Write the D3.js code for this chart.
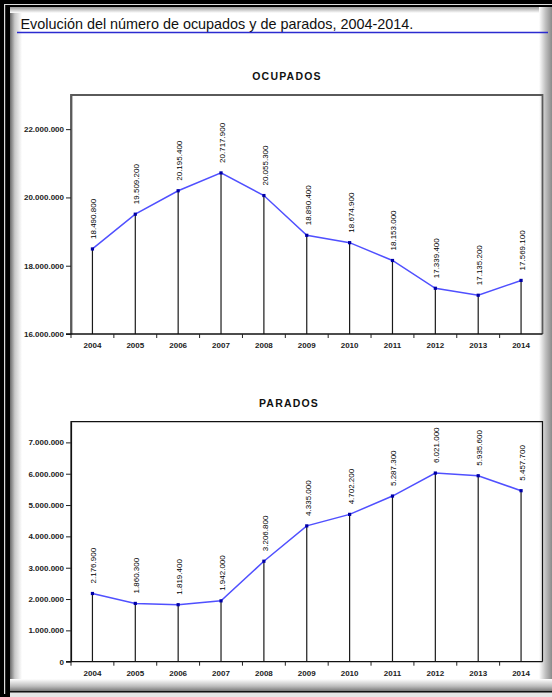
<!DOCTYPE html>
<html>
<head>
<meta charset="utf-8">
<script src="https://cdn.jsdelivr.net/npm/d3@7"></script>
<style>
  html, body { margin: 0; padding: 0; background: #000; }
  svg { display: block; font-family: "Liberation Sans", Arial, sans-serif; }
</style>
</head>
<body>
<svg id="chart" width="552" height="697"></svg>
<script>
// Years shown on both panels
const years = ["2004", "2005", "2006", "2007", "2008", "2009", "2010", "2011", "2012", "2013", "2014"];

// Employed people (ocupados)
const ocupados = [18490800, 19509200, 20195400, 20717900, 20055300, 18890400, 18674900, 18153000, 17339400, 17135200, 17569100];

// Unemployed people (parados)
const parados = [2176900, 1860300, 1819400, 1942000, 3206800, 4335000, 4702200, 5287300, 6021000, 5935600, 5457700];

// Y axis ticks for each panel
const ocupadosTicks = [16000000, 18000000, 20000000, 22000000];
const paradosTicks = [0, 1000000, 2000000, 3000000, 4000000, 5000000, 6000000, 7000000];

const mainTitle = "Evolución del número de ocupados y de parados, 2004-2014.";

const es = d3.formatLocale({ decimal: ",", thousands: ".", grouping: [3], currency: ["", "€"] });
const fmt = es.format(",");

const svg = d3.select("#chart");
const W = 552, H = 697;

// ---- Window frame with bevelled edges ----
const defs = svg.append("defs");
function grad(id, x1, y1, x2, y2, stops) {
  const g = defs.append("linearGradient").attr("id", id)
    .attr("x1", x1).attr("y1", y1).attr("x2", x2).attr("y2", y2);
  stops.forEach(s => g.append("stop").attr("offset", s[0]).attr("stop-color", s[1]));
}
grad("gLeft", 0, 0, 1, 0, [[0, "#6a6a6a"], [0.4, "#c8c8c8"], [1, "#ffffff"]]);
grad("gTop", 0, 0, 0, 1, [[0, "#9a9a9a"], [1, "#ffffff"]]);
grad("gRight", 0, 0, 1, 0, [[0, "#ffffff"], [0.5, "#c0c0c0"], [1, "#8a8a8a"]]);
grad("gBottom", 0, 0, 0, 1, [[0, "#ffffff"], [0.6, "#bdbdbd"], [1, "#7a7a7a"]]);

svg.append("rect").attr("width", W).attr("height", H).attr("fill", "#000");
svg.append("rect").attr("x", 4).attr("y", 4).attr("width", 1.2).attr("height", 690).attr("fill", "#dcdcdc");
svg.append("rect").attr("x", 4).attr("y", 4).attr("width", 548).attr("height", 1).attr("fill", "#dcdcdc");

const panel = { x: 10, y: 7, w: 542, h: 684 };
svg.append("rect").attr("x", panel.x).attr("y", panel.y).attr("width", panel.w).attr("height", panel.h).attr("fill", "#fff");
svg.append("rect").attr("x", panel.x).attr("y", panel.y).attr("width", 12).attr("height", panel.h).attr("fill", "url(#gLeft)");
svg.append("rect").attr("x", panel.x).attr("y", panel.y).attr("width", panel.w).attr("height", 6).attr("fill", "url(#gTop)");
svg.append("rect").attr("x", 539).attr("y", panel.y).attr("width", 13).attr("height", panel.h).attr("fill", "url(#gRight)");
svg.append("rect").attr("x", panel.x).attr("y", 679).attr("width", panel.w).attr("height", 12).attr("fill", "url(#gBottom)");
svg.append("rect").attr("x", 10).attr("y", 691).attr("width", 542).attr("height", 1.5).attr("fill", "#111");
svg.append("rect").attr("x", 10).attr("y", 692.5).attr("width", 542).attr("height", 4.5).attr("fill", "#e6e6e6");

// ---- Main title with blue rule ----
svg.append("text")
  .attr("x", 20.5).attr("y", 29)
  .attr("font-size", 14.4).attr("fill", "#111")
  .text(mainTitle);
svg.append("line")
  .attr("x1", 17).attr("x2", 548).attr("y1", 32.5).attr("y2", 32.5)
  .attr("stroke", "#2b2bd0").attr("stroke-width", 1.3);

// ---- One line panel with drop lines and vertical value labels ----
function drawPanel(cfg) {
  const g = svg.append("g");
  const x = d3.scaleBand().domain(years).range([cfg.left, cfg.right]).padding(0);
  const y = d3.scaleLinear().domain(cfg.domain).range([cfg.bottom, cfg.top]);
  const cx = d => x(d) + x.bandwidth() / 2;

  g.append("text")
    .attr("x", cfg.titleX).attr("y", cfg.titleY)
    .attr("text-anchor", "middle")
    .attr("font-size", 10.5).attr("font-weight", "bold")
    .attr("letter-spacing", 1.2)
    .attr("fill", "#111")
    .text(cfg.title);

  // plot frame (top and right)
  g.append("path")
    .attr("d", `M${cfg.left},${cfg.bottom}V${cfg.top}H${cfg.right}V${cfg.bottom}`)
    .attr("fill", "none").attr("stroke", cfg.frameColor).attr("stroke-width", cfg.frameWidth);

  // drop lines
  g.selectAll(".drop").data(cfg.values).join("line")
    .attr("x1", (d, i) => cx(years[i])).attr("x2", (d, i) => cx(years[i]))
    .attr("y1", d => y(d)).attr("y2", cfg.bottom)
    .attr("stroke", "#1a1a1a").attr("stroke-width", 1.2);

  // y axis
  const yAxis = g.append("g").attr("transform", `translate(${cfg.left},0)`)
    .call(d3.axisLeft(y).tickValues(cfg.ticks).tickFormat(fmt)
      .tickSize(5).tickSizeOuter(0).tickPadding(2));
  yAxis.select(".domain").attr("stroke", cfg.frameColor).attr("stroke-width", cfg.frameWidth);
  yAxis.selectAll(".tick line").attr("stroke", "#222");
  yAxis.selectAll("text").attr("font-size", 8).attr("font-weight", "bold")
    .attr("fill", "#222").attr("font-family", "Liberation Sans, Arial, sans-serif");

  // x axis: ticks at category boundaries, labels centred
  const xAxis = g.append("g").attr("transform", `translate(0,${cfg.bottom})`);
  xAxis.append("line").attr("x1", cfg.left - 5).attr("x2", cfg.right)
    .attr("stroke", "#111").attr("stroke-width", 1.3);
  const bounds = years.map(d => x(d));
  xAxis.selectAll(".bt").data(bounds).join("line")
    .attr("x1", d => d).attr("x2", d => d).attr("y1", 0).attr("y2", 4)
    .attr("stroke", "#222");
  xAxis.selectAll(".yl").data(years).join("text")
    .attr("x", d => cx(d)).attr("y", 14)
    .attr("text-anchor", "middle")
    .attr("font-size", 8).attr("font-weight", "bold").attr("fill", "#222")
    .text(d => d);

  // series line
  const line = d3.line().x((d, i) => cx(years[i])).y(d => y(d));
  g.append("path").datum(cfg.values)
    .attr("d", line).attr("fill", "none")
    .attr("stroke", "#5050ff").attr("stroke-width", 1.5);

  // markers
  g.selectAll(".mk").data(cfg.values).join("rect")
    .attr("x", (d, i) => cx(years[i]) - 1.6).attr("y", d => y(d) - 1.6)
    .attr("width", 3.2).attr("height", 3.2)
    .attr("fill", "#0000a8");

  // vertical value labels
  g.selectAll(".vl").data(cfg.values).join("text")
    .attr("transform", (d, i) => `translate(${cx(years[i]) + 4},${y(d) - 10}) rotate(-90)`)
    .attr("font-size", 8).attr("fill", "#000")
    .text(d => fmt(d));
}

drawPanel({
  title: "OCUPADOS", titleX: 287, titleY: 80,
  values: ocupados, ticks: ocupadosTicks, domain: [16000000, 23000000],
  left: 71, right: 542.5, top: 95, bottom: 334,
  frameColor: "#5a5a5a", frameWidth: 1.8
});

drawPanel({
  title: "PARADOS", titleX: 289, titleY: 407,
  values: parados, ticks: paradosTicks, domain: [0, 7660000],
  left: 71, right: 542.5, top: 421.7, bottom: 661.7,
  frameColor: "#111", frameWidth: 1.2
});
</script>
</body>
</html>
